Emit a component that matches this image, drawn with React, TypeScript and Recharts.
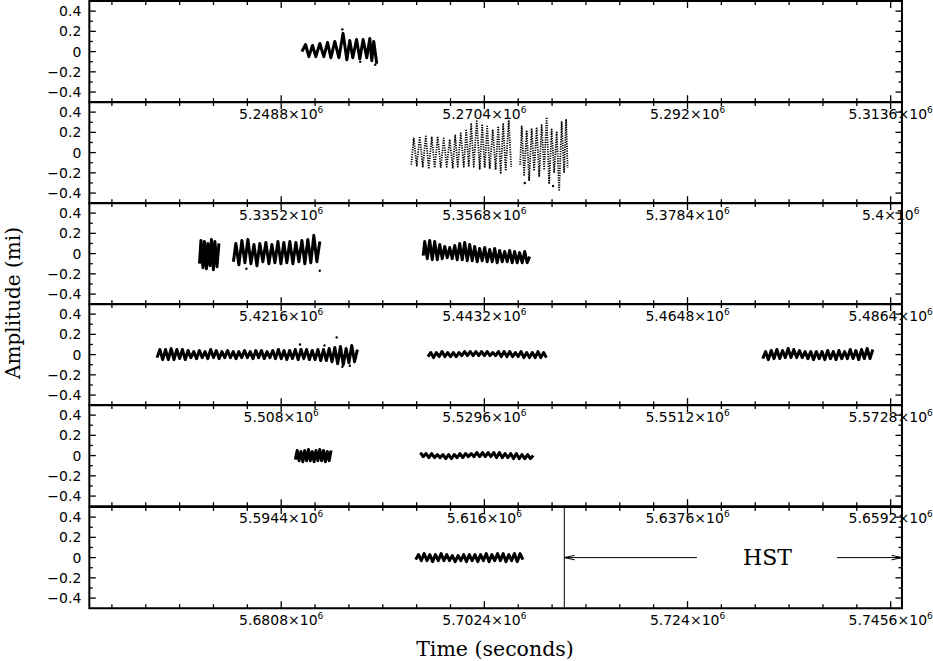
import { ComposedChart, Line, Scatter, XAxis, YAxis, ReferenceArea, ReferenceLine, ReferenceDot } from 'recharts'

type Pt = [number, number]

const P1_SEG_A: Pt[] = [
  [5251000, 0.0], [5251390, 0.07], [5251740, -0.05], [5252130, 0.06], [5252480, -0.05], [5252910, 0.08],
  [5253330, -0.05], [5253730, 0.09], [5254080, -0.06], [5254500, 0.1], [5254930, -0.06], [5255380, 0.18],
  [5255780, -0.08], [5256090, 0.11], [5256410, -0.06], [5256810, 0.12], [5257160, -0.07], [5257510, 0.12],
  [5257900, -0.06], [5258220, 0.13], [5258430, -0.09], [5258640, 0.1], [5258960, -0.12],
]
const P1_STRAY: Pt[] = [[5255300, 0.22], [5257200, -0.1], [5258800, -0.13]]

const P2_SEG_A: Pt[] = [
  [5349030, -0.12], [5349290, 0.14], [5349610, -0.13], [5349930, 0.16], [5350250, -0.14], [5350570, 0.16],
  [5350890, -0.15], [5351210, 0.15], [5351520, -0.15], [5351840, 0.16], [5352160, -0.15], [5352480, 0.14],
  [5352800, -0.14], [5353120, 0.13], [5353440, -0.15], [5353700, 0.17], [5353970, -0.14], [5354290, 0.19],
  [5354610, -0.14], [5354870, 0.22], [5355140, -0.13], [5355400, 0.28], [5355670, -0.14], [5355990, 0.31],
  [5356310, -0.16], [5356570, 0.27], [5356840, -0.15], [5357100, 0.26], [5357370, -0.16], [5357690, 0.22],
  [5358000, -0.17], [5358270, 0.26], [5358540, -0.2], [5358800, 0.28], [5359070, -0.18], [5359390, 0.32],
  [5359650, -0.14],
]
const P2_SEG_B: Pt[] = [
  [5360610, -0.12], [5360770, 0.26], [5361030, -0.22], [5361300, 0.22], [5361560, -0.28], [5361830, 0.24],
  [5362090, -0.18], [5362360, 0.25], [5362630, -0.24], [5362890, 0.27], [5363160, -0.16], [5363420, 0.35],
  [5363690, -0.31], [5363950, 0.23], [5364220, -0.2], [5364490, 0.21], [5364750, -0.38], [5365020, 0.3],
  [5365280, -0.2], [5365490, 0.33], [5365650, -0.15],
]
const P2_STRAY: Pt[] = [[5361100, -0.3], [5364100, -0.33]]

const P3_SEG_A: Pt[] = [
  [5412910, -0.1], [5413070, 0.13], [5413280, -0.14], [5413440, 0.12], [5413650, -0.15], [5413810, 0.1],
  [5414020, -0.12], [5414180, 0.14], [5414390, -0.16], [5414550, 0.12], [5414770, -0.13], [5414980, 0.1],
]
const P3_SEG_B: Pt[] = [
  [5416520, -0.08], [5416780, 0.1], [5417100, -0.11], [5417420, 0.13], [5417740, -0.09], [5418060, 0.14],
  [5418380, -0.1], [5418700, 0.09], [5419020, -0.12], [5419330, 0.1], [5419650, -0.08], [5419970, 0.11],
  [5420290, -0.1], [5420610, 0.09], [5420930, -0.09], [5421250, 0.12], [5421570, -0.1], [5421880, 0.11],
  [5422200, -0.09], [5422520, 0.12], [5422840, -0.1], [5423160, 0.11], [5423480, -0.08], [5423800, 0.13],
  [5424110, -0.1], [5424430, 0.14], [5424750, -0.09], [5425070, 0.18], [5425390, -0.08], [5425710, 0.12],
]
const P3_SEG_C: Pt[] = [
  [5436700, -0.02], [5436860, 0.12], [5437130, -0.05], [5437390, 0.13], [5437660, -0.06], [5437920, 0.12],
  [5438190, -0.06], [5438460, 0.09], [5438720, -0.05], [5438990, 0.07], [5439250, -0.04], [5439520, 0.06],
  [5439780, -0.05], [5440050, 0.08], [5440310, -0.06], [5440580, 0.1], [5440850, -0.06], [5441110, 0.11],
  [5441380, -0.07], [5441640, 0.09], [5441910, -0.07], [5442170, 0.07], [5442440, -0.08], [5442700, 0.05],
  [5442970, -0.07], [5443240, 0.06], [5443500, -0.08], [5443770, 0.04], [5444030, -0.08], [5444300, 0.05],
  [5444560, -0.09], [5444830, 0.03], [5445100, -0.08], [5445360, 0.02], [5445630, -0.08], [5445890, 0.03],
  [5446160, -0.09], [5446420, 0.02], [5446690, -0.09], [5446950, 0.01], [5447220, -0.09], [5447490, 0.02],
  [5447750, -0.09], [5448020, -0.03],
]
const P3_STRAY: Pt[] = [[5425700, -0.17], [5417900, -0.15]]

const P4_SEG_A: Pt[] = [
  [5494800, -0.03], [5495100, 0.05], [5495400, -0.05], [5495700, 0.05], [5496000, -0.05], [5496300, 0.06],
  [5496600, -0.05], [5496900, 0.05], [5497200, -0.04], [5497500, 0.05], [5497800, -0.05], [5498100, 0.04],
  [5498400, -0.03], [5498700, 0.03], [5499000, -0.04], [5499300, 0.04], [5499600, -0.03], [5499900, 0.03],
  [5500200, -0.04], [5500500, 0.05], [5500800, -0.03], [5501100, 0.04], [5501400, -0.04], [5501700, 0.03],
  [5502000, -0.03], [5502300, 0.04], [5502600, -0.03], [5502900, 0.03], [5503200, -0.04], [5503500, 0.03],
  [5503800, -0.03], [5504100, 0.04], [5504400, -0.03], [5504700, 0.03], [5505000, -0.04], [5505300, 0.04],
  [5505600, -0.03], [5505900, 0.04], [5506200, -0.04], [5506500, 0.03], [5506800, -0.03], [5507100, 0.04],
  [5507400, -0.04], [5507700, 0.05], [5508000, -0.04], [5508300, 0.04], [5508600, -0.05], [5508900, 0.04],
  [5509200, -0.04], [5509500, 0.05], [5509800, -0.05], [5510100, 0.05], [5510400, -0.04], [5510700, 0.05],
  [5511000, -0.05], [5511300, 0.04], [5511600, -0.05], [5511900, 0.05], [5512200, -0.06], [5512500, 0.05],
  [5512800, -0.06], [5513100, 0.06], [5513400, -0.07], [5513700, 0.07], [5514000, -0.09], [5514300, 0.08],
  [5514600, -0.1], [5514900, 0.06], [5515200, -0.08], [5515500, 0.09], [5515800, -0.07], [5516100, 0.05],
]
const P4_SEG_B: Pt[] = [
  [5523600, -0.02], [5523900, 0.02], [5524200, -0.03], [5524500, 0.02], [5524800, -0.02], [5525100, 0.03],
  [5525400, -0.02], [5525700, 0.02], [5526000, -0.02], [5526300, 0.02], [5526600, -0.02], [5526900, 0.02],
  [5527200, -0.01], [5527500, 0.03], [5527800, -0.01], [5528100, 0.03], [5528400, -0.01], [5528700, 0.03],
  [5529000, -0.01], [5529300, 0.03], [5529600, -0.01], [5529900, 0.03], [5530200, -0.01], [5530500, 0.02],
  [5530800, -0.01], [5531100, 0.03], [5531400, -0.02], [5531700, 0.03], [5532000, -0.02], [5532300, 0.03],
  [5532600, -0.02], [5532900, 0.02], [5533200, -0.02], [5533500, 0.03], [5533800, -0.03], [5534100, 0.02],
  [5534400, -0.03], [5534700, 0.02], [5535000, -0.03], [5535300, 0.03], [5535600, -0.03], [5535900, 0.02],
  [5536200, -0.03],
]
const P4_SEG_C: Pt[] = [
  [5559200, -0.04], [5559500, 0.03], [5559800, -0.05], [5560100, 0.04], [5560400, -0.04], [5560700, 0.05],
  [5561000, -0.04], [5561300, 0.04], [5561600, -0.03], [5561900, 0.06], [5562200, -0.03], [5562500, 0.05],
  [5562800, -0.03], [5563100, 0.04], [5563400, -0.03], [5563700, 0.03], [5564000, -0.04], [5564300, 0.03],
  [5564600, -0.05], [5564900, 0.03], [5565200, -0.04], [5565500, 0.03], [5565800, -0.05], [5566100, 0.04],
  [5566400, -0.04], [5566700, 0.03], [5567000, -0.05], [5567300, 0.04], [5567600, -0.04], [5567900, 0.03],
  [5568200, -0.04], [5568500, 0.05], [5568800, -0.04], [5569100, 0.04], [5569400, -0.05], [5569700, 0.05],
  [5570000, -0.04], [5570300, 0.06], [5570600, -0.04], [5570900, 0.05],
]
const P4_STRAY: Pt[] = [[5513900, 0.17], [5514500, -0.12], [5515300, -0.11], [5510000, 0.1], [5512600, 0.09]]

const P5_SEG_A: Pt[] = [
  [5595900, -0.04], [5596100, 0.05], [5596300, -0.05], [5596500, 0.04], [5596700, -0.06], [5596900, 0.05],
  [5597100, -0.05], [5597300, 0.06], [5597500, -0.05], [5597700, 0.04], [5597900, -0.06], [5598100, 0.05],
  [5598300, -0.05], [5598500, 0.06], [5598700, -0.05], [5598900, 0.05], [5599100, -0.06], [5599300, 0.04],
  [5599500, -0.05], [5599700, 0.05],
]
const P5_SEG_B: Pt[] = [
  [5609200, 0.03], [5609500, -0.01], [5609800, 0.02], [5610100, -0.02], [5610400, 0.02], [5610700, -0.02],
  [5611000, 0.01], [5611300, -0.02], [5611600, 0.01], [5611900, -0.03], [5612200, 0.01], [5612500, -0.03],
  [5612800, 0.01], [5613100, -0.02], [5613400, 0.02], [5613700, -0.02], [5614000, 0.02], [5614300, -0.01],
  [5614600, 0.02], [5614900, -0.01], [5615200, 0.03], [5615500, -0.01], [5615800, 0.03], [5616100, -0.01],
  [5616400, 0.03], [5616700, -0.01], [5617000, 0.03], [5617300, -0.02], [5617600, 0.03], [5617900, -0.02],
  [5618200, 0.02], [5618500, -0.02], [5618800, 0.02], [5619100, -0.03], [5619400, 0.02], [5619700, -0.03],
  [5620000, 0.01], [5620300, -0.03], [5620600, 0.01], [5620900, -0.03], [5621200, 0.0],
]

const P6_SEG_A: Pt[] = [
  [5695100, -0.02], [5695400, 0.03], [5695700, -0.03], [5696000, 0.04], [5696300, -0.03], [5696600, 0.03],
  [5696900, -0.04], [5697200, 0.03], [5697500, -0.03], [5697800, 0.04], [5698100, -0.03], [5698400, 0.03],
  [5698700, -0.03], [5699000, 0.02], [5699300, -0.04], [5699600, 0.02], [5699900, -0.03], [5700200, 0.03],
  [5700500, -0.04], [5700800, 0.03], [5701100, -0.03], [5701400, 0.03], [5701700, -0.04], [5702000, 0.03],
  [5702300, -0.03], [5702600, 0.04], [5702900, -0.04], [5703200, 0.03], [5703500, -0.03], [5703800, 0.04],
  [5704100, -0.03], [5704400, 0.04], [5704700, -0.04], [5705000, 0.03], [5705300, -0.03], [5705600, 0.04],
  [5705900, -0.04], [5706200, 0.04], [5706500, -0.02],
]

// panel x ranges (one day each) and labelled ticks
const PANEL_STARTS = [5228400, 5314800, 5401200, 5487600, 5574000, 5660400]
const MAJOR_TICKS = [
  [5248800, 5270400, 5292000, 5313600],
  [5335200, 5356800, 5378400, 5400000],
  [5421600, 5443200, 5464800, 5486400],
  [5508000, 5529600, 5551200, 5572800],
  [5594400, 5616000, 5637600, 5659200],
  [5680800, 5702400, 5724000, 5745600],
]
const Y_MAJOR = [-0.4, -0.2, 0, 0.2, 0.4]
const Y_MINOR = [-0.3, -0.1, 0.1, 0.3]

// HST coverage marker in the last panel
const HST_LINE_T = 5710900
const HST_LEFT_ARROW = [5710900, 5725000]
const HST_RIGHT_ARROW = [5739900, 5746800]
const HST_LABEL_T = 5732500

const PANELS = [
  { segments: [P1_SEG_A], stray: P1_STRAY, dotted: false },
  { segments: [P2_SEG_A, P2_SEG_B], stray: P2_STRAY, dotted: true },
  { segments: [P3_SEG_A, P3_SEG_B, P3_SEG_C], stray: P3_STRAY, dotted: false },
  { segments: [P4_SEG_A, P4_SEG_B, P4_SEG_C], stray: P4_STRAY, dotted: false },
  { segments: [P5_SEG_A, P5_SEG_B], stray: [] as Pt[], dotted: false },
  { segments: [P6_SEG_A], stray: [] as Pt[], dotted: false },
]

const W = 933
const PLOT_LEFT = 89.3
const PLOT_RIGHT = 902
const PLOT_W = PLOT_RIGHT - PLOT_LEFT
const PANEL_H = 101.2
const FIRST_TOP = 0.6
const PAD_TOP = 2
const LABEL_ROOM = 40
const DAY = 86400
const HOUR = 3600
const HEAD_T = 1100
const HEAD_A = 0.022

const TICK_FONT = '"DejaVu Sans", sans-serif'
const TITLE_FONT = '"DejaVu Serif", serif'

const fmtY = (v: number) => (v < 0 ? `\u2212${Math.abs(v)}` : `${v}`)

function XTick({ x, y, payload, majors }: any) {
  const major = majors.includes(payload.value)
  const len = major ? 7 : 4
  return (
    <g>
      <line x1={x} x2={x} y1={y} y2={y - len} stroke="#000" strokeWidth={1.3} />
      <line x1={x} x2={x} y1={y - PANEL_H} y2={y - PANEL_H + len} stroke="#000" strokeWidth={1.3} />
      {major && (
        <text x={x} y={y + 17} textAnchor="middle" fontFamily={TICK_FONT} fontSize={14} fill="#000">
          {`${payload.value / 1e6}\u00d710`}
          <tspan dy={-6} fontSize={9}>6</tspan>
        </text>
      )}
    </g>
  )
}

function YTick({ x, y, payload }: any) {
  const v = payload.value
  const major = Y_MAJOR.includes(v)
  const len = major ? 6.5 : 3.5
  return (
    <g>
      <line x1={x} x2={x + len} y1={y} y2={y} stroke="#000" strokeWidth={1.3} />
      <line x1={x + PLOT_W} x2={x + PLOT_W - len} y1={y} y2={y} stroke="#000" strokeWidth={1.3} />
      {major && (
        <text x={x - 8} y={y + 5} textAnchor="end" fontFamily={TICK_FONT} fontSize={14} fill="#000">
          {fmtY(v)}
        </text>
      )}
    </g>
  )
}

function Panel({ idx }: { idx: number }) {
  const p = PANELS[idx]
  const start = PANEL_STARTS[idx]
  const majors = MAJOR_TICKS[idx]
  const ticks = Array.from({ length: 24 }, (_, k) => majors[0] - 5 * HOUR + k * HOUR)
  return (
    <div style={{ position: 'absolute', left: 0, top: FIRST_TOP - PAD_TOP + idx * PANEL_H }}>
      <ComposedChart
        width={W}
        height={PAD_TOP + PANEL_H + LABEL_ROOM}
        margin={{ top: PAD_TOP, right: W - PLOT_RIGHT, bottom: 0, left: 0 }}
      >
        <XAxis
          type="number"
          dataKey="t"
          domain={[start, start + DAY]}
          allowDataOverflow
          ticks={ticks}
          interval={0}
          height={LABEL_ROOM}
          tickSize={0}
          tickMargin={0}
          tickLine={false}
          axisLine={false}
          tick={(props: any) => <XTick {...props} majors={majors} />}
        />
        <YAxis
          type="number"
          dataKey="a"
          domain={[-0.5, 0.5]}
          allowDataOverflow
          ticks={[...Y_MAJOR, ...Y_MINOR]}
          interval={0}
          width={PLOT_LEFT}
          tickSize={0}
          tickMargin={0}
          tickLine={false}
          axisLine={false}
          tick={(props: any) => <YTick {...props} />}
        />
        <ReferenceArea
          x1={start}
          x2={start + DAY}
          y1={-0.5}
          y2={0.5}
          fill="none"
          fillOpacity={0}
          stroke="#000"
          strokeWidth={2}
          ifOverflow="visible"
        />
        {p.segments.map((seg, i) => (
          <Line
            key={i}
            data={seg.map(([t, a]) => ({ t, a }))}
            dataKey="a"
            type="linear"
            stroke="#000"
            strokeWidth={p.dotted ? 1.8 : 3}
            strokeDasharray={p.dotted ? '1.2 1.2' : undefined}
            strokeLinejoin="round"
            dot={false}
            isAnimationActive={false}
          />
        ))}
        {p.stray.length > 0 && (
          <Scatter
            data={p.stray.map(([t, a]) => ({ t, a }))}
            dataKey="a"
            isAnimationActive={false}
            shape={(s: any) => <circle cx={s.cx} cy={s.cy} r={1.2} fill="#000" />}
          />
        )}
        {idx === 5 && <ReferenceLine x={HST_LINE_T} stroke="#000" strokeWidth={1} />}
        {idx === 5 && (
          <ReferenceLine
            segment={[{ x: HST_LEFT_ARROW[0], y: 0 }, { x: HST_LEFT_ARROW[1], y: 0 }]}
            stroke="#000"
            strokeWidth={1}
          />
        )}
        {idx === 5 &&
          [HEAD_A, -HEAD_A].map((d) => (
            <ReferenceLine
              key={`l${d}`}
              segment={[{ x: HST_LEFT_ARROW[0], y: 0 }, { x: HST_LEFT_ARROW[0] + HEAD_T, y: d }]}
              stroke="#000"
              strokeWidth={1}
            />
          ))}
        {idx === 5 && (
          <ReferenceLine
            segment={[{ x: HST_RIGHT_ARROW[0], y: 0 }, { x: HST_RIGHT_ARROW[1], y: 0 }]}
            stroke="#000"
            strokeWidth={1}
          />
        )}
        {idx === 5 &&
          [HEAD_A, -HEAD_A].map((d) => (
            <ReferenceLine
              key={`r${d}`}
              segment={[{ x: HST_RIGHT_ARROW[1], y: 0 }, { x: HST_RIGHT_ARROW[1] - HEAD_T, y: d }]}
              stroke="#000"
              strokeWidth={1}
            />
          ))}
        {idx === 5 && (
          <ReferenceDot
            x={HST_LABEL_T}
            y={0}
            r={0}
            fill="none"
            stroke="none"
            label={{ value: 'HST', position: 'center', fontFamily: TITLE_FONT, fontSize: 22, fill: '#000' }}
          />
        )}
      </ComposedChart>
    </div>
  )
}

export default function App() {
  return (
    <div style={{ position: 'absolute', left: 0, top: 0, width: W, height: 661, background: '#fff', overflow: 'hidden' }}>
      {PANELS.map((_, i) => (
        <Panel key={i} idx={i} />
      ))}
      <svg width={W} height={661} style={{ position: 'absolute', left: 0, top: 0, pointerEvents: 'none' }}>
        <text
          x={0}
          y={0}
          transform="translate(20 303) rotate(-90)"
          textAnchor="middle"
          fontFamily={TITLE_FONT}
          fontSize={20}
          fill="#000"
        >
          Amplitude (mi)
        </text>
        <text x={495} y={656} textAnchor="middle" fontFamily={TITLE_FONT} fontSize={20.5} fill="#000">
          Time (seconds)
        </text>
      </svg>
    </div>
  )
}
